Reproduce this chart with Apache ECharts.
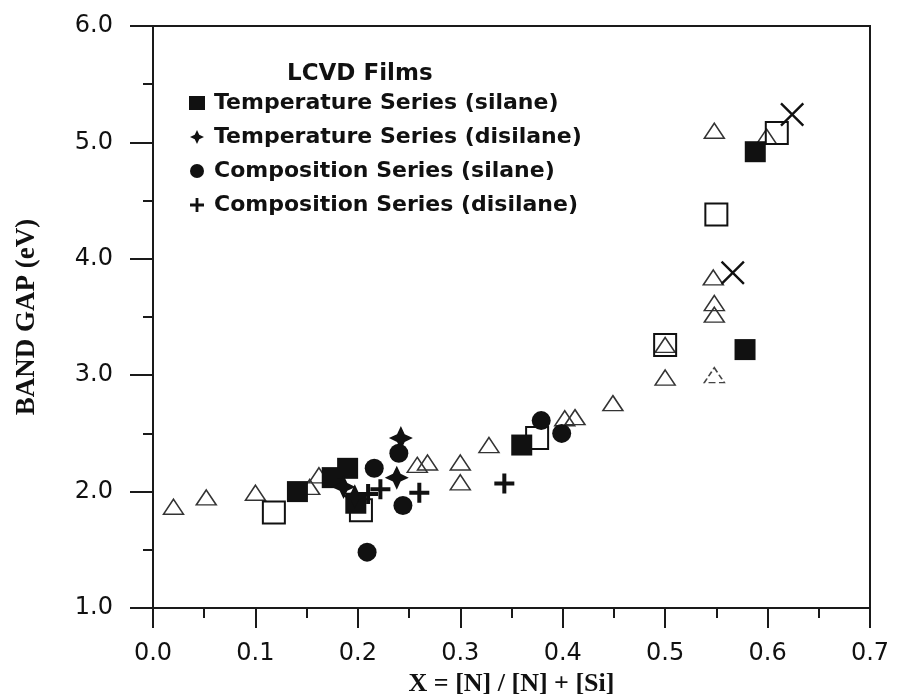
<!DOCTYPE html>
<html>
<head>
<meta charset="utf-8">
<script src="https://cdn.jsdelivr.net/npm/echarts@6/dist/echarts.min.js"></script>
<style>
html, body { margin: 0; padding: 0; background: #fff; }
#chart { width: 897px; height: 697px; }
</style>
</head>
<body>
<div id="chart"></div>
<script>
// 数据: x = [N] / ([N] + [Si]), y = band gap (eV)
var tempSilane   = [[0.141, 2.00], [0.175, 2.12], [0.190, 2.20], [0.198, 1.90], [0.360, 2.40], [0.578, 3.22], [0.588, 4.92]];
var tempDisilane = [[0.186, 2.04], [0.197, 1.96], [0.238, 2.12], [0.242, 2.46]];
var compSilane   = [[0.209, 1.48], [0.216, 2.20], [0.240, 2.33], [0.244, 1.88], [0.379, 2.61], [0.399, 2.50]];
var compDisilane = [[0.210, 1.98], [0.222, 2.02], [0.260, 1.99], [0.343, 2.07]];

// 其他数据 (不在图例中)
var openTriangles = [[0.020, 1.87], [0.052, 1.95], [0.100, 1.99], [0.153, 2.04], [0.162, 2.14],
    [0.258, 2.23], [0.268, 2.25], [0.300, 2.25], [0.300, 2.08], [0.328, 2.40], [0.402, 2.63],
    [0.412, 2.64], [0.449, 2.76], [0.500, 3.26], [0.500, 2.98], [0.548, 3.52], [0.548, 3.62],
    [0.547, 3.84], [0.548, 5.10], [0.599, 5.05]];
var dashedTriangles = [[0.548, 3.00]];
var openSquares = [[0.118, 1.82], [0.203, 1.84], [0.375, 2.46], [0.500, 3.26], [0.550, 4.38], [0.609, 5.08]];
var crossMarks  = [[0.566, 3.88], [0.624, 5.24]];

var legendNames = ['Temperature Series (silane)', 'Temperature Series (disilane)',
                   'Composition Series (silane)', 'Composition Series (disilane)'];

var plusPath  = 'path://M4,0H6V4H10V6H6V10H4V6H0V4H4Z';
var starPath  = 'path://M5,0L6.6,3.4L10,5L6.6,6.6L5,10L3.4,6.6L0,5L3.4,3.4Z';
var crossPath = 'path://M0,0.7L0.7,0L10,9.3L9.3,10ZM9.3,0L10,0.7L0.7,10L0,9.3Z';

var ink = '#111';
var axisInk = '#1a1a1a';
var sans = 'DejaVu Sans';
var serif = 'Liberation Serif';

var chart = echarts.init(document.getElementById('chart'));

var option = {
    animation: false,
    backgroundColor: '#fff',
    title: {
        text: 'LCVD Films',
        left: 282,
        top: 58,
        textStyle: { fontFamily: sans, fontWeight: 'bold', fontSize: 23, color: ink }
    },
    legend: {
        data: legendNames,
        orient: 'vertical',
        left: 184,
        top: 87,
        itemWidth: 16,
        itemHeight: 14,
        itemGap: 12,
        textStyle: { fontFamily: sans, fontWeight: 'bold', fontSize: 22, lineHeight: 22, color: ink, padding: [0, 0, 0, 4] }
    },
    grid: {
        left: 153, right: 27, top: 26, bottom: 89,
        outerBoundsMode: 'none',
        show: true, borderColor: axisInk, borderWidth: 2
    },
    xAxis: {
        type: 'value',
        min: 0, max: 0.7, interval: 0.1,
        name: 'X = [N] / [N] + [Si]',
        nameLocation: 'middle',
        nameGap: 62,
        nameTextStyle: { fontFamily: serif, fontWeight: 'bold', fontSize: 26, color: ink },
        axisLine: { lineStyle: { color: axisInk, width: 2 } },
        axisTick: { length: 20, lineStyle: { color: axisInk, width: 2 } },
        minorTick: { show: true, splitNumber: 2, length: 10, lineStyle: { color: axisInk, width: 2 } },
        splitLine: { show: false },
        axisLabel: { margin: 34, fontFamily: sans, fontSize: 24, color: ink,
            formatter: function (v) { return v.toFixed(1); } }
    },
    yAxis: {
        type: 'value',
        min: 1, max: 6, interval: 1,
        name: 'BAND GAP (eV)',
        nameLocation: 'middle',
        nameGap: 112,
        nameTextStyle: { fontFamily: serif, fontWeight: 'bold', fontSize: 27, color: ink },
        axisLine: { lineStyle: { color: axisInk, width: 2 } },
        axisTick: { length: 23, lineStyle: { color: axisInk, width: 2 } },
        minorTick: { show: true, splitNumber: 2, length: 10, lineStyle: { color: axisInk, width: 2 } },
        splitLine: { show: false },
        axisLabel: { margin: 40, fontFamily: sans, fontSize: 24, color: ink,
            formatter: function (v) { return v.toFixed(1); } }
    },
    series: [
        {
            name: 'open triangles', type: 'scatter', data: openTriangles,
            symbol: 'triangle', symbolSize: [20, 15],
            itemStyle: { color: 'rgba(0,0,0,0)', borderColor: '#333', borderWidth: 1.5, opacity: 1 }
        },
        {
            name: 'dashed triangles', type: 'scatter', data: dashedTriangles,
            symbol: 'triangle', symbolSize: [20, 15],
            itemStyle: { color: 'rgba(0,0,0,0)', borderColor: '#444', borderWidth: 1.5, borderType: 'dashed', opacity: 1 }
        },
        {
            name: 'open squares', type: 'scatter', data: openSquares,
            symbol: 'rect', symbolSize: 22,
            itemStyle: { color: 'rgba(0,0,0,0)', borderColor: ink, borderWidth: 2, opacity: 1 }
        },
        {
            name: 'crosses', type: 'scatter', data: crossMarks,
            symbol: crossPath, symbolSize: 24,
            itemStyle: { color: ink, opacity: 1 }
        },
        {
            name: legendNames[0], type: 'scatter', data: tempSilane,
            symbol: 'rect', symbolSize: 21,
            itemStyle: { color: ink, opacity: 1 }
        },
        {
            name: legendNames[1], type: 'scatter', data: tempDisilane,
            symbol: starPath, symbolSize: 24,
            itemStyle: { color: ink, opacity: 1 }
        },
        {
            name: legendNames[2], type: 'scatter', data: compSilane,
            symbol: 'circle', symbolSize: 19,
            itemStyle: { color: ink, opacity: 1 }
        },
        {
            name: legendNames[3], type: 'scatter', data: compDisilane,
            symbol: plusPath, symbolSize: 20,
            itemStyle: { color: ink, opacity: 1 }
        }
    ]
};

chart.setOption(option);
</script>
</body>
</html>
